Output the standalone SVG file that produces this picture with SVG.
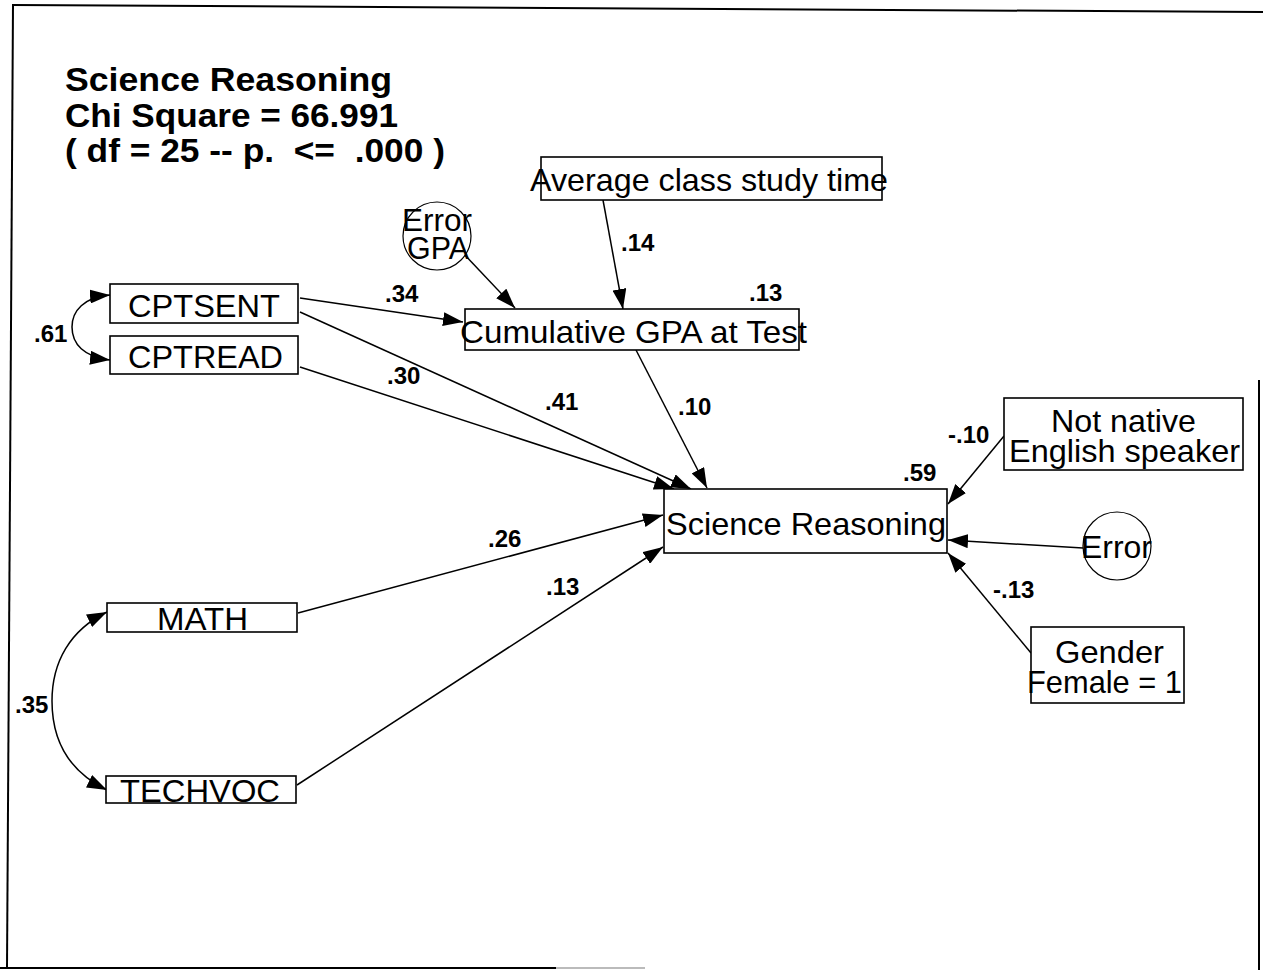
<svg xmlns="http://www.w3.org/2000/svg" width="1263" height="971" viewBox="0 0 1263 971">
  <style>
    .box { fill: #fff; stroke: #000; stroke-width: 1.6; }
    .circ { fill: #fff; stroke: #000; stroke-width: 1.2; }
    .lbl { font-family: "Liberation Sans", Arial, sans-serif; font-size: 32px; fill: #000; }
    .title { font-family: "Liberation Sans", Arial, sans-serif; font-size: 34px; font-weight: bold; fill: #000; white-space: pre; }
    .coef { font-family: "Liberation Sans", Arial, sans-serif; font-size: 24px; font-weight: bold; fill: #000; }
    .edge { fill: none; stroke: #000; stroke-width: 1.5; marker-end: url(#arrow); }
    .corr { fill: none; stroke: #000; stroke-width: 1.5; marker-start: url(#arrow); marker-end: url(#arrow); }
    .frame { fill: none; stroke: #000; stroke-width: 2; }
  </style>
  <defs>
    <marker id="arrow" markerUnits="userSpaceOnUse" markerWidth="20" markerHeight="14" refX="20" refY="7" orient="auto-start-reverse">
      <path d="M0,0 L20,7 L0,14 Z" fill="#000"/>
    </marker>
  </defs>

  <rect width="1263" height="971" fill="#fff"/>

  <!-- page frame -->
  <g id="frame">
    <line class="frame" x1="12" y1="5" x2="1263" y2="12"/>
    <line class="frame" x1="13" y1="5" x2="7" y2="968"/>
    <line class="frame" x1="1259" y1="380" x2="1259" y2="970"/>
    <line class="frame" x1="0" y1="968" x2="556" y2="968"/>
    <line x1="556" y1="968" x2="645" y2="968" stroke="#bbb" stroke-width="2"/>
  </g>

  <!-- model heading -->
  <g id="heading">
    <text class="title" x="65" y="91" textLength="327" lengthAdjust="spacingAndGlyphs">Science Reasoning</text>
    <text class="title" x="65" y="127" textLength="333" lengthAdjust="spacingAndGlyphs">Chi Square = 66.991</text>
    <text class="title" x="65" y="162" textLength="380" lengthAdjust="spacingAndGlyphs">( df = 25 -- p.  &lt;=  .000 )</text>
  </g>

  <!-- paths and correlations -->
  <g id="connectors">
    <line class="edge" x1="300" y1="298" x2="463" y2="322"/>
    <line class="edge" x1="300" y1="312" x2="691" y2="489"/>
    <line class="edge" x1="300" y1="367" x2="674" y2="489"/>
    <line class="edge" x1="636" y1="350" x2="707" y2="488"/>
    <line class="edge" x1="603" y1="200" x2="623" y2="309"/>
    <line class="edge" x1="462" y1="252" x2="515" y2="308"/>
    <line class="edge" x1="298" y1="613" x2="663" y2="515"/>
    <line class="edge" x1="297" y1="785" x2="663" y2="547"/>
    <line class="edge" x1="1004" y1="436" x2="948" y2="504"/>
    <line class="edge" x1="1083" y1="548" x2="948" y2="540"/>
    <line class="edge" x1="1031" y1="653" x2="948" y2="553"/>
    <path class="corr" d="M110 295 C84 297 72 311 72 327 C72 344 84 357 110 360"/>
    <path class="corr" d="M107 612 C70 630 52 662 52 701 C52 742 70 772 107 790"/>

    <text class="coef" x="385" y="302">.34</text>
    <text class="coef" x="545" y="410">.41</text>
    <text class="coef" x="387" y="384">.30</text>
    <text class="coef" x="678" y="415">.10</text>
    <text class="coef" x="621" y="251">.14</text>
    <text class="coef" x="488" y="547">.26</text>
    <text class="coef" x="546" y="595">.13</text>
    <text class="coef" x="948" y="443">-.10</text>
    <text class="coef" x="993" y="598">-.13</text>
    <text class="coef" x="34" y="342">.61</text>
    <text class="coef" x="15" y="713">.35</text>
  </g>

  <g id="avg-study-time">
    <rect class="box" x="541" y="157" width="341" height="43"/>
    <text class="lbl" x="530" y="191" textLength="358" lengthAdjust="spacingAndGlyphs">Average class study time</text>
  </g>

  <g id="error-gpa">
    <circle class="circ" cx="437" cy="236" r="34"/>
    <text class="lbl" x="402" y="231" font-size="29" textLength="70" lengthAdjust="spacingAndGlyphs">Error</text>
    <text class="lbl" x="407" y="259" font-size="29" textLength="62" lengthAdjust="spacingAndGlyphs">GPA</text>
  </g>

  <g id="cumulative-gpa">
    <rect class="box" x="465" y="309" width="334" height="41"/>
    <text class="lbl" x="460" y="343" textLength="347" lengthAdjust="spacingAndGlyphs">Cumulative GPA at Test</text>
    <text class="coef" x="749" y="301">.13</text>
  </g>

  <g id="cptsent">
    <rect class="box" x="110" y="284" width="188" height="39"/>
    <text class="lbl" x="128" y="317" textLength="152" lengthAdjust="spacingAndGlyphs">CPTSENT</text>
  </g>

  <g id="cptread">
    <rect class="box" x="110" y="336" width="188" height="38"/>
    <text class="lbl" x="128" y="368" textLength="155" lengthAdjust="spacingAndGlyphs">CPTREAD</text>
  </g>

  <g id="math">
    <rect class="box" x="107" y="603" width="190" height="29"/>
    <text class="lbl" x="157" y="630" textLength="91" lengthAdjust="spacingAndGlyphs">MATH</text>
  </g>

  <g id="techvoc">
    <rect class="box" x="106" y="776" width="190" height="27"/>
    <text class="lbl" x="120" y="802" textLength="160" lengthAdjust="spacingAndGlyphs">TECHVOC</text>
  </g>

  <g id="science-reasoning">
    <rect class="box" x="664" y="489" width="283" height="64"/>
    <text class="lbl" x="666" y="535" textLength="280" lengthAdjust="spacingAndGlyphs">Science Reasoning</text>
    <text class="coef" x="903" y="481">.59</text>
  </g>

  <g id="not-native">
    <rect class="box" x="1004" y="398" width="239" height="72"/>
    <text class="lbl" x="1051" y="432" font-size="31" textLength="145" lengthAdjust="spacingAndGlyphs">Not native</text>
    <text class="lbl" x="1009" y="462" font-size="31" textLength="231" lengthAdjust="spacingAndGlyphs">English speaker</text>
  </g>

  <g id="error-sr">
    <circle class="circ" cx="1117" cy="546" r="34"/>
    <text class="lbl" x="1081" y="558" textLength="71" lengthAdjust="spacingAndGlyphs">Error</text>
  </g>

  <g id="gender">
    <rect class="box" x="1031" y="627" width="153" height="76"/>
    <text class="lbl" x="1055" y="663" font-size="31" textLength="109" lengthAdjust="spacingAndGlyphs">Gender</text>
    <text class="lbl" x="1027" y="693" font-size="31" textLength="155" lengthAdjust="spacingAndGlyphs">Female = 1</text>
  </g>
</svg>
